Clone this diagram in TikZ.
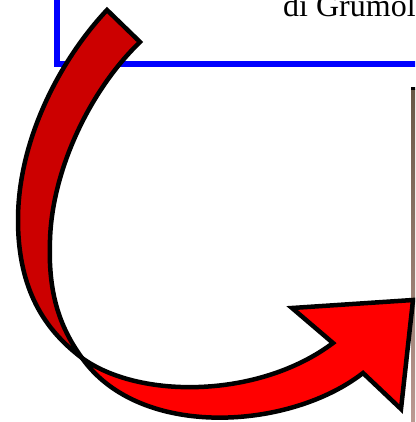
\documentclass[tikz,border=0pt]{standalone}
\usepackage{fontspec}
\setmainfont{Liberation Serif}
\begin{document}
\begin{tikzpicture}[x=1pt,y=-1pt,
  ribbon/.style={draw=black,line width=4.5pt,line join=miter,miter limit=10},
  frame/.style={draw={rgb,255:red,0;green,0;blue,255},line width=5.5pt}]
\useasboundingbox (0,0) rectangle (415,422);
\clip (0,0) rectangle (415,422);
% blue frame
\coordinate (fa) at (57,-20);
\coordinate (fb) at (57,64);
\coordinate (fc) at (440,64);
\draw[frame] (fa) -- (fb) -- (fc);
% text
\node[anchor=base west,inner sep=0pt,font=\fontsize{32}{38}\selectfont] (txt) at (283,17) {di Grumol};
% image strip
\shade[top color={rgb,255:red,104;green,88;blue,70},middle color={rgb,255:red,150;green,125;blue,108},bottom color={rgb,255:red,190;green,155;blue,148}] (411,90) rectangle (420,430);
\fill[black] (410.5,87.5) rectangle (420,90.5);
% named points of the arrow
\coordinate (t1) at (107,10);
\coordinate (t2) at (140,42);
\coordinate (ox) at (82,358);
\coordinate (om) at (18,220);
\coordinate (im) at (50,240);
\coordinate (n1) at (333,343);
\coordinate (b1) at (292,308);
\coordinate (tip) at (413,300);
\coordinate (b2) at (401,409);
\coordinate (n2) at (363,373);
% dark back band
\path[ribbon,fill={rgb,255:red,204;green,0;blue,0}]
  (t1) .. controls (60,60) and (18,140) .. (om)
  .. controls (18,290) and (45,330) .. (ox)
  .. controls (58,325) and (48,290) .. (im)
  .. controls (52,170) and (90,90) .. (t2)
  -- cycle;
% light front band with head
\path[ribbon,fill={rgb,255:red,255;green,0;blue,0}]
  (ox) .. controls (140,400) and (260,398) .. (n1)
  -- (b1) -- (tip) -- (b2) -- (n2)
  .. controls (290,430) and (140,440) .. (ox)
  -- cycle;
\end{tikzpicture}
\end{document}
